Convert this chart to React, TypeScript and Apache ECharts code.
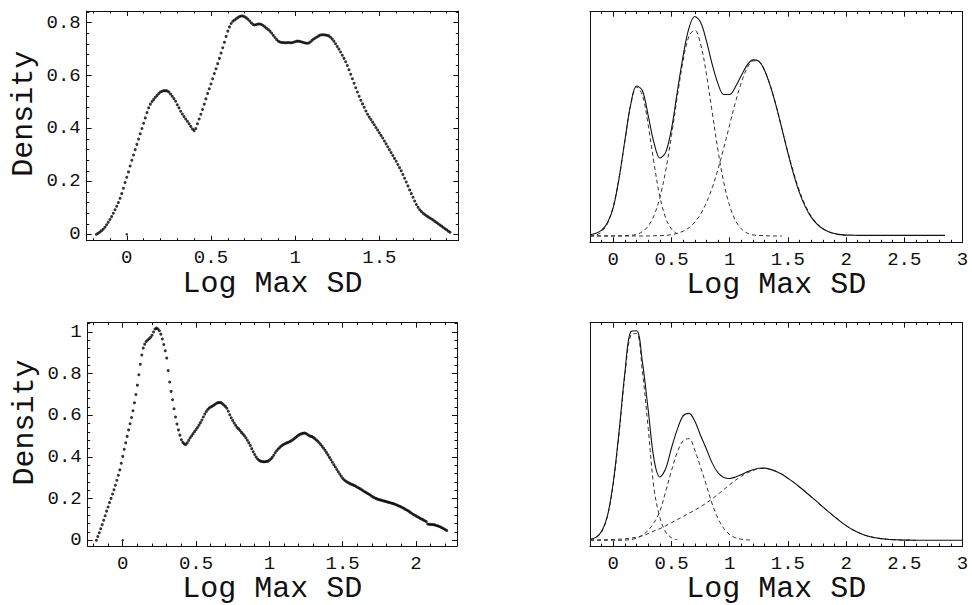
import React, { useEffect, useRef } from "react";
import * as echarts from "echarts";

const FONT = "'Liberation Mono', 'DejaVu Sans Mono', monospace";

// ---------- Panel A (top-left): kernel density estimate, dots ----------
const panelAStart = -0.18;
const panelAStep = 0.01;
const panelADensity: number[] = [
  0.000, 0.004, 0.009, 0.014, 0.019, 0.027, 0.036, 0.046, 0.056, 0.067, 0.080, 0.093, 0.106, 0.120, 0.136, 0.154, 0.174, 0.196,
  0.216, 0.236, 0.258, 0.280, 0.300, 0.320, 0.340, 0.360, 0.380, 0.400,
  0.420, 0.440, 0.460, 0.478, 0.492, 0.502, 0.510, 0.518, 0.525, 0.532,
  0.538, 0.541, 0.543, 0.543, 0.542, 0.538, 0.530, 0.522, 0.513, 0.503,
  0.490, 0.478, 0.465, 0.455, 0.445, 0.436, 0.427, 0.418, 0.408, 0.398,
  0.392, 0.400, 0.418, 0.436, 0.454, 0.472, 0.492, 0.512, 0.532, 0.550,
  0.568, 0.588, 0.608, 0.626, 0.645, 0.665, 0.685, 0.705, 0.726, 0.748,
  0.768, 0.784, 0.797, 0.805, 0.810, 0.815, 0.819, 0.823, 0.825, 0.825,
  0.822, 0.818, 0.813, 0.806, 0.799, 0.793, 0.791, 0.793, 0.795, 0.795,
  0.793, 0.789, 0.784, 0.779, 0.774, 0.768, 0.761, 0.752, 0.744, 0.736,
  0.730, 0.727, 0.725, 0.725, 0.724, 0.724, 0.725, 0.724, 0.724, 0.726,
  0.728, 0.730, 0.730, 0.729, 0.727, 0.725, 0.723, 0.722, 0.723, 0.727,
  0.733, 0.738, 0.742, 0.746, 0.750, 0.753, 0.754, 0.754, 0.753, 0.752,
  0.750, 0.745, 0.738, 0.730, 0.720, 0.710, 0.700, 0.689, 0.677, 0.665,
  0.652, 0.638, 0.622, 0.605, 0.588, 0.571, 0.554, 0.538, 0.522, 0.507,
  0.493, 0.480, 0.466, 0.454, 0.443, 0.434, 0.424, 0.414, 0.404, 0.394,
  0.384, 0.374, 0.364, 0.353, 0.342, 0.331, 0.320, 0.309, 0.298, 0.287,
  0.276, 0.264, 0.252, 0.240, 0.226, 0.212, 0.198, 0.183, 0.168, 0.154,
  0.140, 0.126, 0.113, 0.102, 0.093, 0.086, 0.080, 0.075, 0.070, 0.066,
  0.062, 0.058, 0.054, 0.049, 0.045, 0.040, 0.035, 0.031, 0.026, 0.021,
  0.017, 0.012, 0.008,
];

// ---------- Panel C (bottom-left): kernel density estimate, dots ----------
const panelCStart = -0.18;
const panelCStep = 0.01;
const panelCDensity: number[] = [
  0.000, 0.018, 0.036, 0.055, 0.075, 0.096, 0.118, 0.140, 0.160, 0.181, 0.201, 0.222, 0.243, 0.264, 0.288, 0.312, 0.338, 0.370,
  0.403, 0.437, 0.468, 0.499, 0.530, 0.560, 0.590, 0.622, 0.660, 0.700,
  0.745, 0.795, 0.845, 0.890, 0.923, 0.942, 0.955, 0.962, 0.968, 0.975,
  0.985, 1.000, 1.015, 1.019, 1.015, 1.006, 0.990, 0.967, 0.940, 0.910,
  0.875, 0.815, 0.760, 0.715, 0.675, 0.632, 0.592, 0.558, 0.530, 0.505,
  0.483, 0.470, 0.463, 0.460, 0.468, 0.480, 0.492, 0.502, 0.512, 0.522,
  0.532, 0.542, 0.553, 0.565, 0.578, 0.592, 0.606, 0.618, 0.628, 0.635,
  0.640, 0.644, 0.648, 0.653, 0.658, 0.661, 0.662, 0.661, 0.656, 0.650,
  0.643, 0.634, 0.620, 0.603, 0.588, 0.575, 0.563, 0.552, 0.542, 0.535,
  0.527, 0.518, 0.510, 0.502, 0.492, 0.480, 0.468, 0.455, 0.440, 0.425,
  0.412, 0.400, 0.390, 0.384, 0.380, 0.378, 0.377, 0.377, 0.378, 0.380,
  0.384, 0.390, 0.398, 0.408, 0.420, 0.430, 0.438, 0.445, 0.452, 0.457,
  0.461, 0.465, 0.468, 0.471, 0.474, 0.478, 0.483, 0.488, 0.494, 0.500,
  0.505, 0.509, 0.512, 0.514, 0.515, 0.513, 0.508, 0.503, 0.500, 0.498,
  0.494, 0.488, 0.482, 0.476, 0.468, 0.460, 0.451, 0.442, 0.432, 0.421,
  0.410, 0.398, 0.387, 0.375, 0.363, 0.352, 0.340, 0.329, 0.318, 0.308,
  0.298, 0.291, 0.285, 0.280, 0.276, 0.272, 0.269, 0.266, 0.263, 0.259,
  0.255, 0.251, 0.247, 0.243, 0.238, 0.233, 0.229, 0.225, 0.221, 0.216,
  0.211, 0.207, 0.203, 0.200, 0.197, 0.195, 0.193, 0.191, 0.189, 0.187,
  0.185, 0.183, 0.181, 0.179, 0.177, 0.175, 0.172, 0.169, 0.166, 0.163,
  0.160, 0.156, 0.152, 0.148, 0.144, 0.140, 0.135, 0.130, 0.125, 0.121,
  0.117, 0.113, 0.109, 0.105, 0.101, 0.098, 0.094, 0.090, 0.078, 0.077,
  0.076, 0.076, 0.075, 0.073, 0.071, 0.069, 0.066, 0.063, 0.059, 0.055,
  0.051, 0.047,
];

// isolated dot at the origin in both left panels
const strayDot: number[][] = [[0, 0]];

// ---------- Mixture fits (right panels), sampled from x = -0.2 every 0.05 ----------
const mixStart = -0.2;
const mixStep = 0.05;

const topTotal: number[] = [
  0.004, 0.010, 0.022, 0.050, 0.108, 0.219, 0.362, 0.498, 0.567, 0.550,
  0.455, 0.352, 0.295, 0.316, 0.405, 0.545, 0.681, 0.786, 0.830, 0.808,
  0.738, 0.649, 0.575, 0.535, 0.535, 0.564, 0.607, 0.646, 0.666, 0.661,
  0.626, 0.566, 0.490, 0.403, 0.314, 0.232, 0.163, 0.110, 0.071, 0.045,
  0.027, 0.016, 0.009, 0.005, 0.003, 0.003, 0.002, 0.002, 0.002, 0.002,
  0.002, 0.002, 0.002, 0.002, 0.002, 0.002, 0.002, 0.002, 0.002, 0.002,
  0.002, 0.002,
];
const topComp1: number[] = [
  0.001, 0.003, 0.016, 0.047, 0.111, 0.219, 0.361, 0.496, 0.563, 0.533,
  0.419, 0.275, 0.149, 0.068, 0.026, 0.008,
];
const topComp2: number[] = [
  0, 0, 0, 0, 0, 0, 0.001, 0.002, 0.006, 0.016,
  0.037, 0.077, 0.145, 0.246, 0.379, 0.527, 0.663, 0.755, 0.778, 0.726,
  0.612, 0.467, 0.322, 0.201, 0.114, 0.058, 0.027, 0.011, 0.004, 0.002,
  0.001, 0, 0, 0,
];
const topComp3: number[] = [
  0, 0, 0, 0, 0, 0, 0, 0, 0, 0,
  0, 0.001, 0.001, 0.002, 0.005, 0.010, 0.018, 0.031, 0.052, 0.082,
  0.126, 0.182, 0.253, 0.334, 0.421, 0.506, 0.580, 0.635, 0.662, 0.660,
  0.626, 0.566, 0.490, 0.403, 0.317, 0.238, 0.170, 0.116, 0.075, 0.047,
  0.028, 0.016, 0.008, 0.004, 0.002,
];

const botTotal: number[] = [
  0.005, 0.014, 0.044, 0.118, 0.280, 0.525, 0.810, 1.005, 1.010, 0.860,
  0.628, 0.390, 0.305, 0.345, 0.445, 0.535, 0.600, 0.612, 0.575, 0.505,
  0.440, 0.372, 0.325, 0.303, 0.298, 0.305, 0.317, 0.330, 0.340, 0.347,
  0.348, 0.342, 0.332, 0.318, 0.299, 0.279, 0.257, 0.234, 0.210, 0.186,
  0.161, 0.137, 0.114, 0.091, 0.071, 0.053, 0.039, 0.027, 0.018, 0.012,
  0.008, 0.005, 0.003, 0.002, 0.001, 0.001, 0, 0, 0, 0,
  0, 0, 0, 0, 0,
];
const botComp1: number[] = [
  0.003, 0.011, 0.040, 0.116, 0.273, 0.517, 0.795, 0.989, 0.997, 0.815,
  0.540, 0.250, 0.110, 0.040, 0.012, 0.003,
];
const botComp2: number[] = [
  0, 0, 0, 0, 0, 0, 0.001, 0.004, 0.010, 0.024,
  0.048, 0.085, 0.140, 0.235, 0.335, 0.425, 0.480, 0.490, 0.435, 0.352,
  0.265, 0.175, 0.105, 0.057, 0.028, 0.012, 0.005, 0.002, 0.001,
];
const botComp3: number[] = [
  0.000, 0.001, 0.002, 0.003, 0.004, 0.005, 0.007, 0.010, 0.015, 0.022,
  0.032, 0.045, 0.056, 0.070, 0.085, 0.100, 0.115, 0.130, 0.145, 0.162,
  0.180, 0.200, 0.222, 0.245, 0.268, 0.290, 0.309, 0.325, 0.337, 0.345,
  0.347, 0.342, 0.332, 0.318, 0.299, 0.279, 0.257, 0.234, 0.210, 0.186,
  0.161, 0.137, 0.114, 0.091, 0.071, 0.053, 0.039, 0.027, 0.018, 0.012,
  0.008, 0.005, 0.003, 0.002, 0.001, 0.001, 0,
];

const xTitle = "Log Max SD";
const yTitle = "Density";

function pairs(start: number, step: number, values: number[]) {
  return values.map((v, i) => [Math.round((start + i * step) * 1000) / 1000, v]);
}

function multipleFormatter(step: number) {
  return (v: number) => {
    const k = v / step;
    if (Math.abs(k - Math.round(k)) > 1e-6) return "";
    return String(Math.round(v * 1000) / 1000);
  };
}

const INK = "#111";

type Range = [number, number];

function bottomAxis(g: number, r: Range) {
  return {
    type: "value",
    gridIndex: g,
    position: "bottom",
    min: r[0],
    max: r[1],
    axisLine: { show: true, onZero: false, lineStyle: { color: INK, width: 1 } },
    axisTick: { show: true, inside: true, length: 5, lineStyle: { color: INK, width: 1 } },
    minorTick: { show: true, splitNumber: 5, length: 2.5, lineStyle: { color: INK, width: 1 } },
    splitLine: { show: false },
    minorSplitLine: { show: false },
    axisLabel: {
      show: true,
      margin: 8,
      color: INK,
      fontFamily: FONT,
      fontSize: 19,
      formatter: multipleFormatter(0.5),
    },
    name: xTitle,
    nameLocation: "middle",
    nameGap: 17,
    nameTextStyle: { fontFamily: FONT, fontSize: 30, color: INK },
  };
}

function topAxis(g: number, r: Range) {
  return {
    type: "value",
    gridIndex: g,
    position: "top",
    min: r[0],
    max: r[1],
    axisLine: { show: true, onZero: false, lineStyle: { color: INK, width: 1 } },
    axisTick: { show: true, inside: true, length: 5, lineStyle: { color: INK, width: 1 } },
    minorTick: { show: true, splitNumber: 5, length: 2.5, lineStyle: { color: INK, width: 1 } },
    splitLine: { show: false },
    axisLabel: { show: false },
  };
}

function leftAxis(g: number, r: Range, labelled: boolean) {
  return {
    type: "value",
    gridIndex: g,
    position: "left",
    min: r[0],
    max: r[1],
    axisLine: { show: true, onZero: false, lineStyle: { color: INK, width: 1 } },
    axisTick: { show: labelled, inside: true, length: 5, lineStyle: { color: INK, width: 1 } },
    minorTick: { show: labelled, splitNumber: 5, length: 2.5, lineStyle: { color: INK, width: 1 } },
    splitLine: { show: false },
    axisLabel: {
      show: labelled,
      margin: 6,
      color: INK,
      fontFamily: FONT,
      fontSize: 19,
      formatter: multipleFormatter(0.2),
    },
    name: labelled ? yTitle : "",
    nameLocation: "middle",
    nameGap: 48,
    nameTextStyle: { fontFamily: FONT, fontSize: 30, color: INK, padding: [0, 0, 0, 24] },
  };
}

function rightAxis(g: number, r: Range, ticks: boolean) {
  return {
    type: "value",
    gridIndex: g,
    position: "right",
    min: r[0],
    max: r[1],
    axisLine: { show: true, onZero: false, lineStyle: { color: INK, width: 1 } },
    axisTick: { show: ticks, inside: true, length: 5, lineStyle: { color: INK, width: 1 } },
    minorTick: { show: ticks, splitNumber: 5, length: 2.5, lineStyle: { color: INK, width: 1 } },
    splitLine: { show: false },
    axisLabel: { show: false },
  };
}

function dotSeries(g: number, data: number[][], size: number) {
  return {
    type: "scatter",
    xAxisIndex: 2 * g,
    yAxisIndex: 2 * g,
    data,
    symbol: "circle",
    symbolSize: size,
    itemStyle: { color: "#000" },
    silent: true,
    z: 3,
  };
}

function curve(g: number, data: number[][], dashed: boolean) {
  return {
    type: "line",
    xAxisIndex: 2 * g,
    yAxisIndex: 2 * g,
    data,
    showSymbol: false,
    symbol: "none",
    smooth: 0.35,
    silent: true,
    z: dashed ? 2 : 4,
    lineStyle: dashed
      ? { color: "#333", width: 1, type: [4, 3] }
      : { color: "#111", width: 1.1 },
  };
}

export default function App() {
  const ref = useRef<HTMLDivElement>(null);

  useEffect(() => {
    if (!ref.current) return;
    const chart = echarts.init(ref.current, undefined, { renderer: "svg" });

    const xA: Range = [-0.238, 1.969];
    const yA: Range = [-0.024, 0.844];
    const xB: Range = [-0.2, 3.0];
    const yB: Range = [-0.024, 0.848];
    const xC: Range = [-0.239, 2.28];
    const yC: Range = [-0.028, 1.045];
    const xD: Range = [-0.2, 3.0];
    const yD: Range = [-0.028, 1.049];

    chart.setOption({
      animation: false,
      backgroundColor: "#fff",
      grid: [
        { left: 86.7, top: 11, width: 371.6, height: 229.7 },
        { left: 590, top: 11.7, width: 372.5, height: 230.6 },
        { left: 87.7, top: 322.7, width: 369.3, height: 230.3 },
        { left: 590, top: 322.7, width: 372.5, height: 231.6 },
      ],
      xAxis: [
        bottomAxis(0, xA), topAxis(0, xA),
        bottomAxis(1, xB), topAxis(1, xB),
        bottomAxis(2, xC), topAxis(2, xC),
        bottomAxis(3, xD), topAxis(3, xD),
      ],
      yAxis: [
        leftAxis(0, yA, true), rightAxis(0, yA, true),
        leftAxis(1, yB, false), rightAxis(1, yB, false),
        leftAxis(2, yC, true), rightAxis(2, yC, true),
        leftAxis(3, yD, false), rightAxis(3, yD, false),
      ],
      series: [
        dotSeries(0, pairs(panelAStart, panelAStep, panelADensity), 3),
        dotSeries(0, strayDot, 2.5),
        curve(1, pairs(mixStart, mixStep, topComp1), true),
        curve(1, pairs(mixStart, mixStep, topComp2), true),
        curve(1, pairs(mixStart, mixStep, topComp3), true),
        curve(1, pairs(mixStart, mixStep, topTotal), false),
        dotSeries(2, pairs(panelCStart, panelCStep, panelCDensity), 3),
        dotSeries(2, strayDot, 2.5),
        curve(3, pairs(mixStart, mixStep, botComp1), true),
        curve(3, pairs(mixStart, mixStep, botComp2), true),
        curve(3, pairs(mixStart, mixStep, botComp3), true),
        curve(3, pairs(mixStart, mixStep, botTotal), false),
      ],
    });

    return () => chart.dispose();
  }, []);

  return (
    <div
      ref={ref}
      style={{ position: "absolute", left: 0, top: 0, width: 972, height: 605, background: "#fff" }}
    />
  );
}
